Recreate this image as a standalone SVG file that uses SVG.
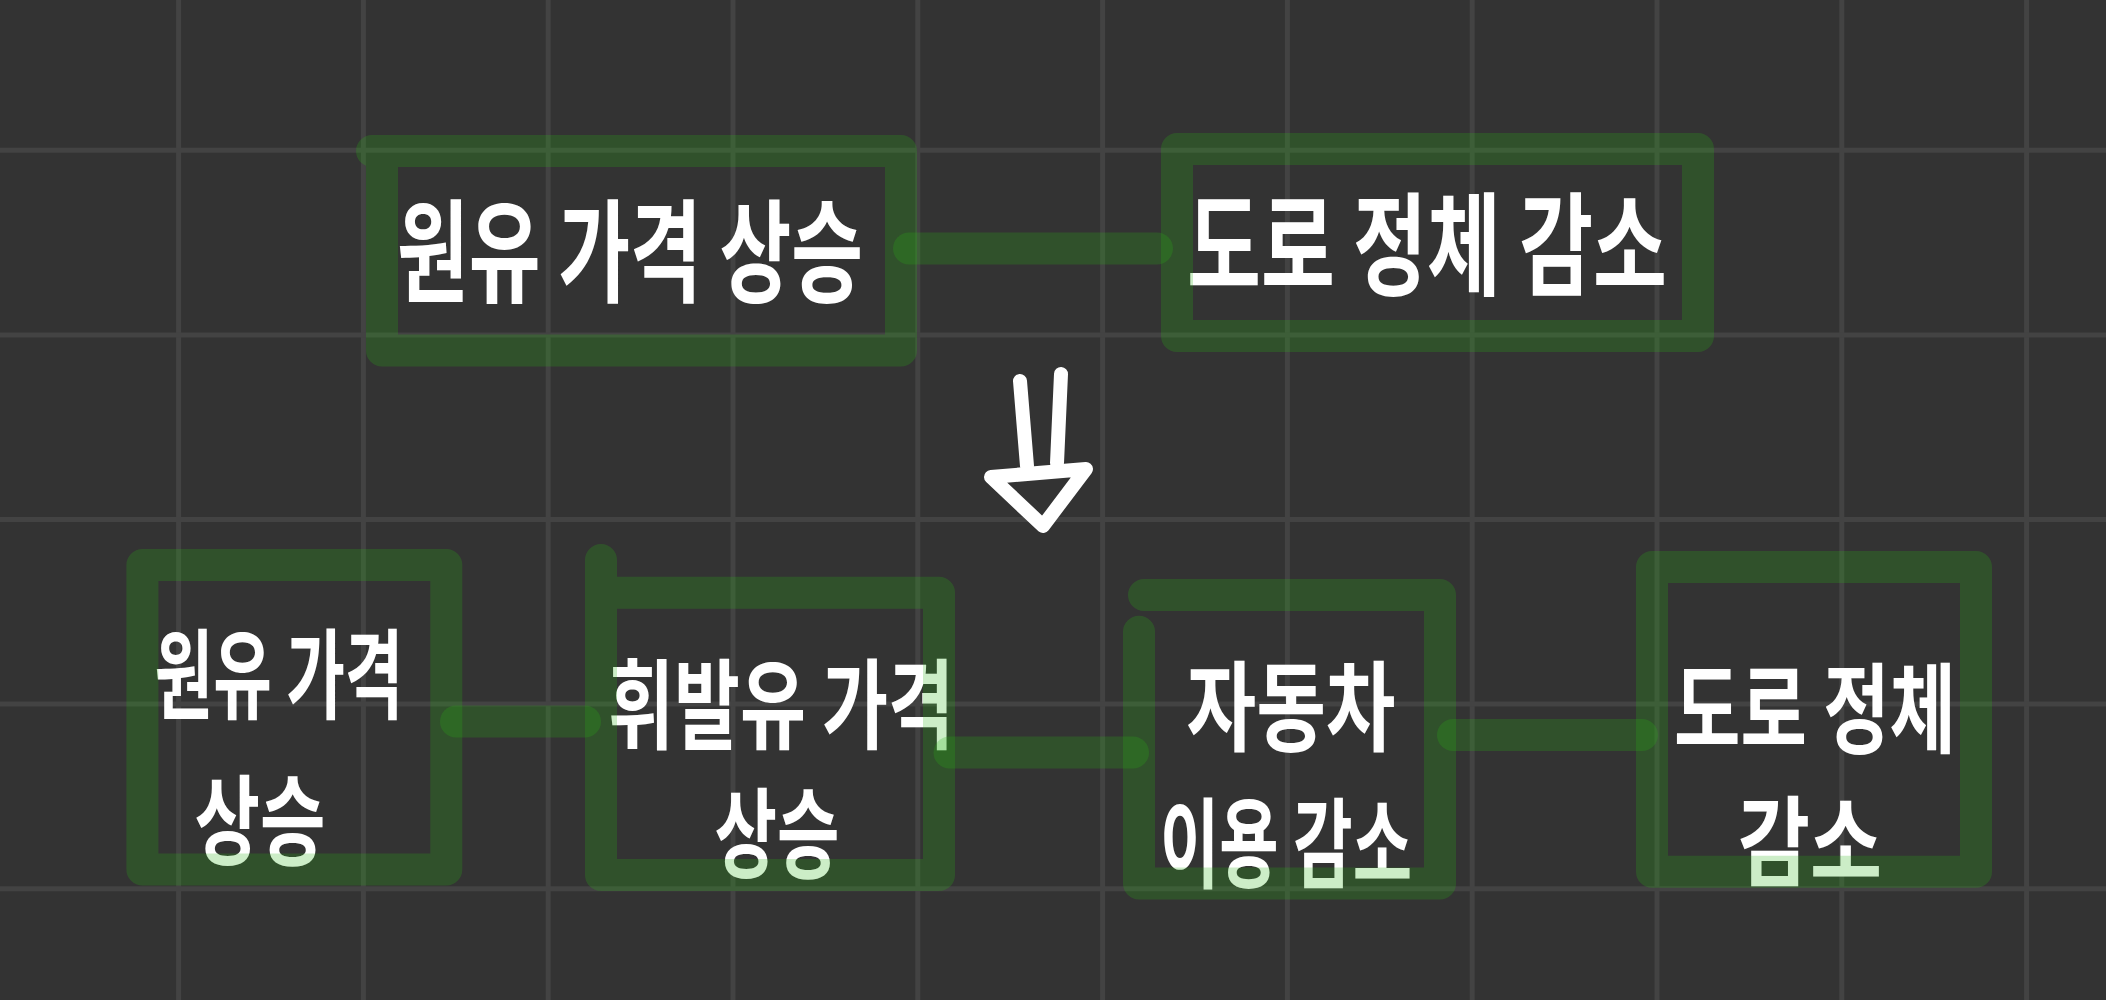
<svg xmlns="http://www.w3.org/2000/svg" width="2106" height="1000" viewBox="0 0 2106 1000">
<style>
.grid line{stroke:#434343;stroke-width:5}
.box,.conn{fill:none;stroke:rgba(40,180,20,0.24);stroke-width:32;stroke-linejoin:round;stroke-linecap:round}
.arrow{fill:none;stroke:#ffffff;stroke-width:14;stroke-linejoin:round;stroke-linecap:round}
.t{font-family:"Noto Sans CJK KR","Noto Sans",sans-serif;font-weight:700;fill:#ffffff;text-anchor:middle;dominant-baseline:central}
.big{font-size:80px}
.sm{font-size:70px}
</style>
<rect x="0" y="0" width="2106" height="1000" fill="#333333"/>
<g class="grid">
<line x1="178.6" y1="0" x2="178.6" y2="1000"/>
<line x1="363.4" y1="0" x2="363.4" y2="1000"/>
<line x1="548.2" y1="0" x2="548.2" y2="1000"/>
<line x1="733" y1="0" x2="733" y2="1000"/>
<line x1="917.8" y1="0" x2="917.8" y2="1000"/>
<line x1="1102.6" y1="0" x2="1102.6" y2="1000"/>
<line x1="1287.4" y1="0" x2="1287.4" y2="1000"/>
<line x1="1472.2" y1="0" x2="1472.2" y2="1000"/>
<line x1="1657" y1="0" x2="1657" y2="1000"/>
<line x1="1841.8" y1="0" x2="1841.8" y2="1000"/>
<line x1="2026.6" y1="0" x2="2026.6" y2="1000"/>
<line x1="0" y1="150.3" x2="2106" y2="150.3"/>
<line x1="0" y1="334.9" x2="2106" y2="334.9"/>
<line x1="0" y1="519.5" x2="2106" y2="519.5"/>
<line x1="0" y1="704.1" x2="2106" y2="704.1"/>
<line x1="0" y1="888.7" x2="2106" y2="888.7"/>
</g>
<g id="node-top-oil">
<text class="t big" transform="translate(630,245) scale(1,1.4)" textLength="466" lengthAdjust="spacingAndGlyphs">원유 가격 상승</text>
<path class="box" d="M372,151 L901,151 L901,350.5 L382,350.5 L382,151"/>
</g>
<g id="node-top-road">
<text class="t big" transform="translate(1427,238) scale(1,1.4)" textLength="480" lengthAdjust="spacingAndGlyphs">도로 정체 감소</text>
<path class="box" d="M1177,149 L1698,149 L1698,336 L1177,336 Z"/>
</g>
<g id="node-oil">
<text class="t sm" transform="translate(279,668) scale(1,1.4)" textLength="249" lengthAdjust="spacingAndGlyphs">원유 가격</text>
<text class="t sm" transform="translate(260,814) scale(1,1.4)" textLength="131" lengthAdjust="spacingAndGlyphs">상승</text>
<path class="box" d="M142.4,565 L446.3,565 L446.3,869.5 L142.4,869.5 Z"/>
</g>
<g id="node-gasoline">
<text class="t sm" transform="translate(781,698) scale(1,1.4)" textLength="346" lengthAdjust="spacingAndGlyphs">휘발유 가격</text>
<text class="t sm" transform="translate(777,827) scale(1,1.4)" textLength="125" lengthAdjust="spacingAndGlyphs">상승</text>
<path class="box" d="M601,560 L601,875 L939,875 L939,592.7 L601,592.7"/>
</g>
<g id="node-car">
<text class="t sm" transform="translate(1291,700) scale(1,1.4)" textLength="209" lengthAdjust="spacingAndGlyphs">자동차</text>
<text class="t sm" transform="translate(1286,837) scale(1,1.4)" textLength="252" lengthAdjust="spacingAndGlyphs">이용 감소</text>
<path class="box" d="M1144,595 L1440,595 L1440,883.5 L1139,883.5 L1139,631.7"/>
</g>
<g id="node-road">
<text class="t sm" transform="translate(1815,702) scale(1,1.4)" textLength="282" lengthAdjust="spacingAndGlyphs">도로 정체</text>
<text class="t sm" transform="translate(1810,835) scale(1,1.4)" textLength="144" lengthAdjust="spacingAndGlyphs">감소</text>
<path class="box" d="M1652,567 L1976,567 L1976,871.7 L1652,871.7 Z"/>
</g>
<g id="connectors">
<path class="conn" d="M909,248.5 L1157,248.5"/>
<path class="conn" d="M456,721.5 L585,721.5"/>
<path class="conn" d="M949.5,752.5 L1133,752.5"/>
<path class="conn" d="M1453,735 L1642,735"/>
<path class="arrow" d="M1020,381 L1027,466"/>
<path class="arrow" d="M1061,374 L1057,463"/>
<path class="arrow" d="M991,477 L1086,469 L1043,526 Z"/>
</g>
</svg>
